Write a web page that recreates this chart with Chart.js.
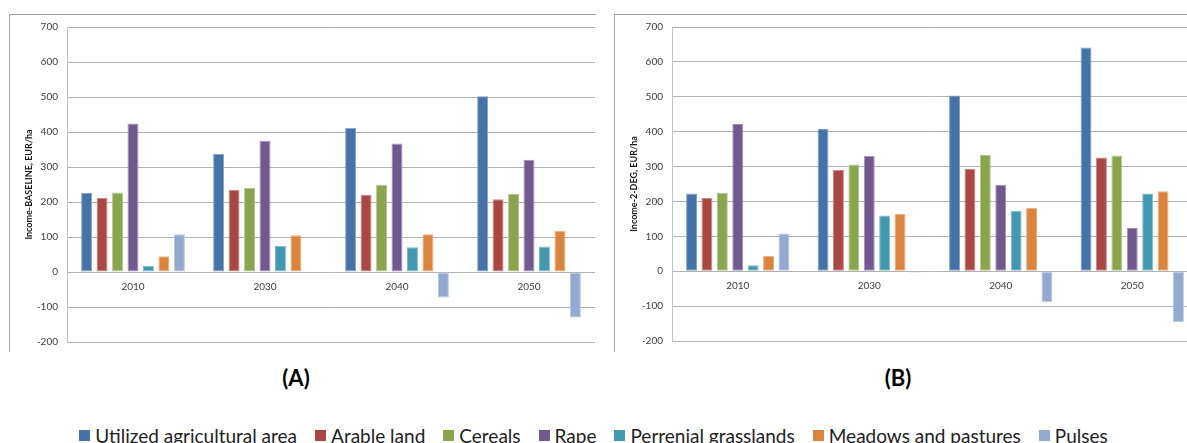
<!DOCTYPE html>
<html>
<head>
<meta charset="utf-8">
<script src="https://cdn.jsdelivr.net/npm/chart.js@4.4.1/dist/chart.umd.min.js"></script>
<style>
  html, body { margin: 0; padding: 0; background: #fff; overflow: hidden; width: 1187px; height: 443px; }
  .frame { position: absolute; border-left: 1px solid #a6a6a6; border-top: 1px solid #a6a6a6; }
  #frameA { left: 9px; top: 14px; width: 586px; height: 337px; }
  #frameB { left: 614px; top: 14px; width: 600px; height: 337px; }
  canvas { position: absolute; }
  #chartA { left: 10px; top: 12px; }
  #chartB { left: 615px; top: 12px; }
  .panel-label { position: absolute; top: 364px; width: 80px; text-align: center;
    font: bold 22px Lato, "Liberation Sans", sans-serif; color: #000; }
  #legend { position: absolute; top: 424px; left: 0; width: 1187px; display: flex; justify-content: center;
    font: 19px Lato, "Liberation Sans", sans-serif; color: #222; white-space: nowrap; }
  #legend .item { display: flex; align-items: center; margin: 0 9px; }
  #legend .sw { width: 11px; height: 11px; margin-right: 5px; }
</style>
</head>
<body>
<div class="frame" id="frameA"></div>
<div class="frame" id="frameB"></div>
<canvas id="chartA" width="585" height="345"></canvas>
<canvas id="chartB" width="583" height="344"></canvas>
<div class="panel-label" style="left:256px">(A)</div>
<div class="panel-label" style="left:858px">(B)</div>
<div id="legend"></div>

<script>
// Years on the horizontal axis
const years = ['2010', '2030', '2040', '2050'];

// Land-use categories (one bar series each)
const seriesNames = ['Utilized agricultural area', 'Arable land', 'Cereals', 'Rape',
  'Perrenial grasslands', 'Meadows and pastures', 'Pulses'];
const seriesColors = ['#4572A7', '#AA4643', '#89A54E', '#71588F', '#4198AF', '#DB843D', '#93A9CF'];

// Income per hectare, BASELINE scenario (EUR/ha), per category in years order
const baselineUAA       = [226, 337, 412, 502];
const baselineArable    = [212, 235, 221, 208];
const baselineCereals   = [227, 241, 249, 223];
const baselineRape      = [424, 375, 367, 321];
const baselinePerennial = [17, 75, 71, 73];
const baselineMeadows   = [45, 105, 108, 118];
const baselinePulses    = [108, null, -73, -130];

// Income per hectare, 2-DEG scenario (EUR/ha)
const degUAA       = [223, 408, 504, 641];
const degArable    = [210, 290, 293, 326];
const degCereals   = [225, 306, 334, 332];
const degRape      = [422, 331, 248, 124];
const degPerennial = [17, 160, 173, 223];
const degMeadows   = [44, 165, 182, 229];
const degPulses    = [108, -4, -89, -146];

// Value axis ticks
const yMin = -200, yMax = 700, yStep = 100;

const baselineSeries = [baselineUAA, baselineArable, baselineCereals, baselineRape,
  baselinePerennial, baselineMeadows, baselinePulses];
const degSeries = [degUAA, degArable, degCereals, degRape, degPerennial, degMeadows, degPulses];

function lighten(hex, amt) {
  const n = parseInt(hex.slice(1), 16);
  const r = (n >> 16) & 255, g = (n >> 8) & 255, b = n & 255;
  const f = c => Math.round(c + (255 - c) * amt);
  return `rgb(${f(r)},${f(g)},${f(b)})`;
}

const tickFont = { family: 'Lato, "Liberation Sans", sans-serif', size: 10 };

function makeChart(id, title, seriesData) {
  return new Chart(document.getElementById(id), {
    type: 'bar',
    data: {
      labels: years,
      datasets: seriesData.map((vals, i) => ({
        label: seriesNames[i],
        data: vals,
        backgroundColor: seriesColors[i],
        borderColor: lighten(seriesColors[i], 0.35),
        borderWidth: 1,
        borderSkipped: false,
        categoryPercentage: 0.82,
        barPercentage: 0.71
      }))
    },
    options: {
      responsive: false,
      animation: false,
      layout: { padding: { top: 8, bottom: 2, left: 0, right: 0 } },
      plugins: { legend: { display: false }, tooltip: { enabled: false } },
      scales: {
        x: {
          position: { y: 0 },
          grid: { display: false, drawTicks: false },
          border: { display: false },
          ticks: { color: '#404040', font: tickFont, padding: 9, maxRotation: 0 }
        },
        y: {
          min: yMin,
          max: yMax,
          afterFit: s => { s.width = 57; },
          ticks: { stepSize: yStep, color: '#404040', font: tickFont, padding: 9 },
          grid: { color: '#b3b3b3', lineWidth: 1, drawTicks: false },
          border: { display: true, color: '#b9c4d4' },
          title: {
            display: true,
            text: title,
            color: '#1a1a1a',
            font: { family: 'Lato, "Liberation Sans", sans-serif', size: 9, weight: 'bold' },
            padding: { top: 14, bottom: 0 }
          }
        }
      }
    }
  });
}

makeChart('chartA', 'Income-BASELINE, EUR/ha', baselineSeries);
makeChart('chartB', 'Income-2-DEG, EUR/ha', degSeries);

// Shared legend below both panels
const legend = document.getElementById('legend');
seriesNames.forEach((name, i) => {
  const item = document.createElement('div');
  item.className = 'item';
  const sw = document.createElement('span');
  sw.className = 'sw';
  sw.style.background = seriesColors[i];
  const txt = document.createElement('span');
  txt.textContent = name;
  item.appendChild(sw);
  item.appendChild(txt);
  legend.appendChild(item);
});
</script>
</body>
</html>
